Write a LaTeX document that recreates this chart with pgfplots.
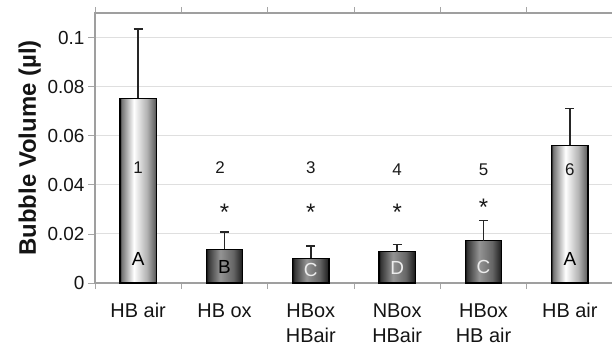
\documentclass[border=0pt]{standalone}
\usepackage{fontspec}
\setmainfont{Liberation Sans}
\usepackage{pgfplots}
\pgfplotsset{compat=1.18}
\pgfdeclarehorizontalshading{lightbar}{100bp}{color(0bp)=(black!85); color(25bp)=(black!85); color(27bp)=(black!55); color(44bp)=(white); color(62bp)=(black!30); color(73bp)=(black!60); color(75bp)=(black!85); color(100bp)=(black!85)}
\pgfdeclarehorizontalshading{darkbar}{100bp}{color(0bp)=(black!95); color(25bp)=(black!95); color(27bp)=(black!80); color(44bp)=(black!42); color(62bp)=(black!60); color(73bp)=(black!85); color(75bp)=(black!95); color(100bp)=(black!95)}
\pgfplotsset{
  barbase/.style={ybar, bar width=0.42, bar shift=0pt, draw=black, line width=1.2bp, shade,
    error bars/y dir=plus, error bars/y explicit,
    error bars/error bar style={line width=1.4bp, black!85},
    error bars/error mark options={rotate=90, mark size=4.5bp, line width=1.4bp, black!85}},
  lightb/.style={shading=lightbar, barbase},
  darkb/.style={shading=darkbar, barbase},
}
\begin{document}
\begin{tikzpicture}
\useasboundingbox (0,0) rectangle (612bp,345bp);
\begin{axis}[
  at={(95bp,62bp)}, anchor=south west,
  scale only axis, width=518bp, height=270bp,
  xmin=-0.5, xmax=5.5, ymin=0, ymax=0.11,
  ytick={0,0.02,0.04,0.06,0.08,0.1},
  scaled y ticks=false,
  /pgf/number format/fixed,
  /pgf/number format/precision=2,
  /pgf/number format/assume math mode=true,
  xtick={0,...,5},
  xticklabels={{HB air},{HB ox},{HBox\\HBair},{NBox\\HBair},{HBox\\HB air},{HB air}},
  xticklabel style={align=center, font=\fontsize{20}{25}\selectfont, yshift=-10bp},
  minor xtick={-0.5,0.5,...,5.5},
  major x tick style={draw=none},
  tick align=outside, major tick length=7bp, minor tick length=6bp,
  tick style={gray!70, line width=0.8bp},
  ymajorgrids, major grid style={gray!25, line width=1bp},
  axis line style={gray!75, line width=1.3bp},
  yticklabel style={font=\fontsize{19}{22}\selectfont},
  tick label style={text=black!92},
  ylabel={Bubble Volume (µl)},
  ylabel style={font=\fontsize{24}{27}\selectfont\bfseries, text=black!92},
  clip=false,
]
\addplot[lightb] coordinates {(0,0.0752) +- (0,0.0282)};
\addplot[darkb] coordinates {(1,0.0138) +- (0,0.0069)};
\addplot[darkb] coordinates {(2,0.0101) +- (0,0.0050)};
\addplot[darkb] coordinates {(3,0.0128) +- (0,0.0030)};
\addplot[darkb] coordinates {(4,0.0173) +- (0,0.0082)};
\addplot[lightb] coordinates {(5,0.0561) +- (0,0.0150)};
\begin{scope}[every node/.style={font=\fontsize{17}{19}\selectfont, text=black!90}]
\node at (axis cs:0,0.047) {1};
\node at (axis cs:0.95,0.047) {2};
\node at (axis cs:2,0.047) {3};
\node at (axis cs:3,0.046) {4};
\node at (axis cs:4,0.046) {5};
\node at (axis cs:5,0.046) {6};
\end{scope}
\begin{scope}[every node/.style={font=\fontsize{24}{26}\selectfont, text=black!90}]
\node at (axis cs:1,0.029) {*};
\node at (axis cs:2,0.029) {*};
\node at (axis cs:3,0.029) {*};
\node at (axis cs:4,0.031) {*};
\end{scope}
\begin{scope}[every node/.style={font=\fontsize{19}{21}\selectfont}]
\node[text=black] at (axis cs:0,0.0098) {A};
\node[text=black] at (axis cs:1,0.0065) {B};
\node[text=white!85!gray] at (axis cs:2,0.0053) {C};
\node[text=white!85!gray] at (axis cs:3,0.0061) {D};
\node[text=white!85!gray] at (axis cs:4,0.0065) {C};
\node[text=black] at (axis cs:5,0.0098) {A};
\end{scope}
\end{axis}
\end{tikzpicture}
\end{document}
